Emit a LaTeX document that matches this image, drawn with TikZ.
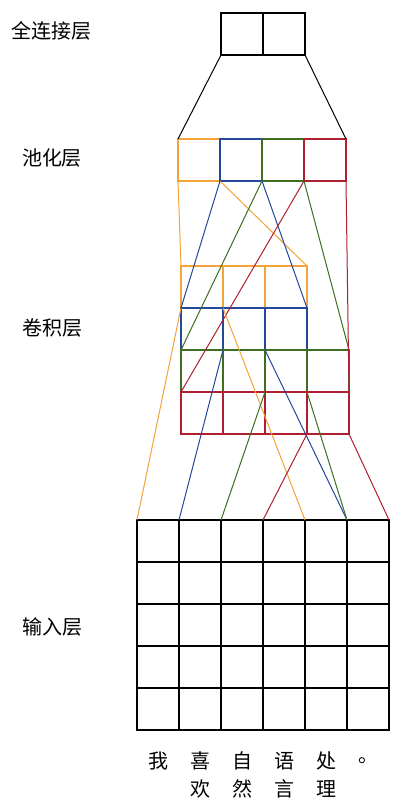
\documentclass[tikz,border=0pt]{standalone}
\usepackage{fontspec}
\newfontfamily\cjk{Noto Sans CJK SC}
\definecolor{corange}{HTML}{F2A33A}
\definecolor{cblue}{HTML}{24489A}
\definecolor{cgreen}{HTML}{3E6E1F}
\definecolor{cred}{HTML}{B01F30}
\tikzset{
  cellbox/.style={draw=#1, line width=2pt, inner sep=0pt, outer sep=0pt, rectangle,
    minimum width=42pt, minimum height=42pt},
  lbl/.style={font=\cjk\fontsize{20}{24}\selectfont, inner sep=0pt, anchor=center},
  word/.style={font=\cjk\fontsize{20}{24}\selectfont, inner sep=0pt, anchor=center},
  link/.style={draw=#1, line width=1pt}
}
\begin{document}
\begin{tikzpicture}[x=1pt,y=-1pt]
\useasboundingbox (0,0) rectangle (402,804);
\fill[white] (0,0) rectangle (402,804);

% labels
\node[lbl] (lfc) at (52,31) {全连接层};
\node[lbl] (lpool) at (52,158) {池化层};
\node[lbl] (lconv) at (53,328) {卷积层};
\node[lbl] (lin) at (53,627) {输入层};

% fully connected
\node[cellbox=black] (f1) at (242,34) {};
\node[cellbox=black] (f2) at (284,34) {};

% pooling
\foreach \i/\c in {1/corange,2/cblue,3/cgreen,4/cred}
  \node[cellbox=\c] (p\i) at ({178+42*(\i-0.5)},160) {};

% convolution rows
\foreach \j in {1,2,3}
  \node[cellbox=corange] (c1-\j) at ({181+42*(\j-0.5)},287) {};
\foreach \j in {1,2,3}
  \node[cellbox=cblue] (c2-\j) at ({181+42*(\j-0.5)},329) {};
\foreach \j in {1,2,3,4}
  \node[cellbox=cgreen] (c3-\j) at ({181+42*(\j-0.5)},371) {};
\foreach \j in {1,2,3,4}
  \node[cellbox=cred] (c4-\j) at ({181+42*(\j-0.5)},413) {};

% input grid
\foreach \k in {1,...,5}
  \foreach \j in {1,...,6}
    \node[cellbox=black] (i\k-\j) at ({137+42*(\j-0.5)},{520+42*(\k-0.5)}) {};

% words
\node[word] (w1) at (158,761) {我};
\node[word] (w2) at (200,761) {喜};
\node[word] (w3) at (242,761) {自};
\node[word] (w4) at (284,761) {语};
\node[word] (w5) at (326,761) {处};
\node[word] (w6) at (368,761) {。};
\node[word] (w7) at (200,789) {欢};
\node[word] (w8) at (242,789) {然};
\node[word] (w9) at (284,789) {言};
\node[word] (w10) at (326,789) {理};

% FC to pooling
\draw[link=black] (f1.south west) -- (p1.north west);
\draw[link=black] (f2.south east) -- (p4.north east);

% pooling to convolution
\draw[link=corange] (p1.south west) -- (c1-1.north west);
\draw[link=corange] (p1.south east) -- (c1-3.north east);
\draw[link=cblue] (p2.south west) -- (c2-1.north west);
\draw[link=cblue] (p2.south east) -- (c2-3.north east);
\draw[link=cgreen] (p3.south west) -- (c3-1.north west);
\draw[link=cgreen] (p3.south east) -- (c3-4.north east);
\draw[link=cred] (p4.south west) -- (c4-1.north west);
\draw[link=cred] (p4.south east) -- (c4-4.north east);

% convolution to input
\draw[link=corange] (c1-1.south west) -- (i1-1.north west);
\draw[link=corange] (c1-1.south east) -- (i1-4.north east);
\draw[link=cblue] (c2-2.south west) -- (i1-2.north west);
\draw[link=cblue] (c2-2.south east) -- (i1-5.north east);
\draw[link=cgreen] (c3-3.south west) -- (i1-3.north west);
\draw[link=cgreen] (c3-3.south east) -- (i1-5.north east);
\draw[link=cred] (c4-4.south west) -- (i1-4.north west);
\draw[link=cred] (c4-4.south east) -- (i1-6.north east);
\end{tikzpicture}
\end{document}
